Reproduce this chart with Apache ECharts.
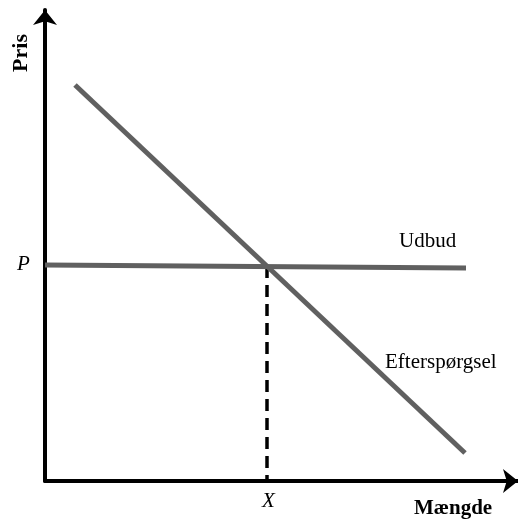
<!DOCTYPE html>
<html>
<head>
<meta charset="utf-8">
<script src="https://cdn.jsdelivr.net/npm/echarts@6/dist/echarts.min.js"></script>
<style>
  html, body { margin: 0; padding: 0; background: #fff; }
  #chart { width: 518px; height: 521px; }
</style>
</head>
<body>
<div id="chart"></div>
<script>
// values in plot units (origin at the axes' corner)
var demandLine = [[30, 396], [420, 28]];
var supplyLine = [[0, 216], [421, 213]];
var equilibrium = [[222, 215], [222, 0]];
var axisMaxX = 473;
var axisMaxY = 471;

var chart = echarts.init(document.getElementById("chart"));
var serif = "'Liberation Serif', 'DejaVu Serif', serif";

chart.setOption({
  animation: false,
  grid: { left: 45, right: 0, top: 10, bottom: 40 },
  xAxis: {
    type: "value",
    min: 0,
    max: axisMaxX,
    axisLine: {
      show: true,
      symbol: ["none", "arrow"],
      symbolSize: [18, 15],
      lineStyle: { color: "#000", width: 4 }
    },
    axisTick: { show: false },
    axisLabel: { show: false },
    splitLine: { show: false }
  },
  yAxis: {
    type: "value",
    min: 0,
    max: axisMaxY,
    axisLine: {
      show: true,
      symbol: ["none", "arrow"],
      symbolSize: [18, 15],
      lineStyle: { color: "#000", width: 4 }
    },
    axisTick: { show: false },
    axisLabel: { show: false },
    splitLine: { show: false }
  },
  series: [
    {
      name: "Efterspørgsel",
      type: "line",
      data: demandLine,
      symbol: "none",
      lineStyle: { color: "#606060", width: 5 },
      z: 3
    },
    {
      name: "Udbud",
      type: "line",
      data: supplyLine,
      symbol: "none",
      lineStyle: { color: "#606060", width: 5 },
      z: 3
    },
    {
      name: "X",
      type: "line",
      data: equilibrium,
      symbol: "none",
      lineStyle: { color: "#000", width: 3.5, type: [12, 7] },
      z: 2
    }
  ],
  graphic: [
    {
      type: "text",
      left: 10,
      top: 34,
      rotation: Math.PI / 2,
      style: { text: "Pris", font: "bold 22px " + serif, fill: "#000" }
    },
    {
      type: "text",
      left: 17,
      top: 254,
      style: { text: "P", font: "italic 21px " + serif, fill: "#000" }
    },
    {
      type: "text",
      left: 262,
      top: 491,
      style: { text: "X", font: "italic 21px " + serif, fill: "#000" }
    },
    {
      type: "text",
      left: 414,
      top: 498,
      style: { text: "Mængde", font: "bold 21px " + serif, fill: "#000" }
    },
    {
      type: "text",
      left: 399,
      top: 231,
      style: { text: "Udbud", font: "21px " + serif, fill: "#000" }
    },
    {
      type: "text",
      left: 385,
      top: 352,
      style: { text: "Efterspørgsel", font: "21px " + serif, fill: "#000" }
    }
  ]
});
</script>
</body>
</html>
